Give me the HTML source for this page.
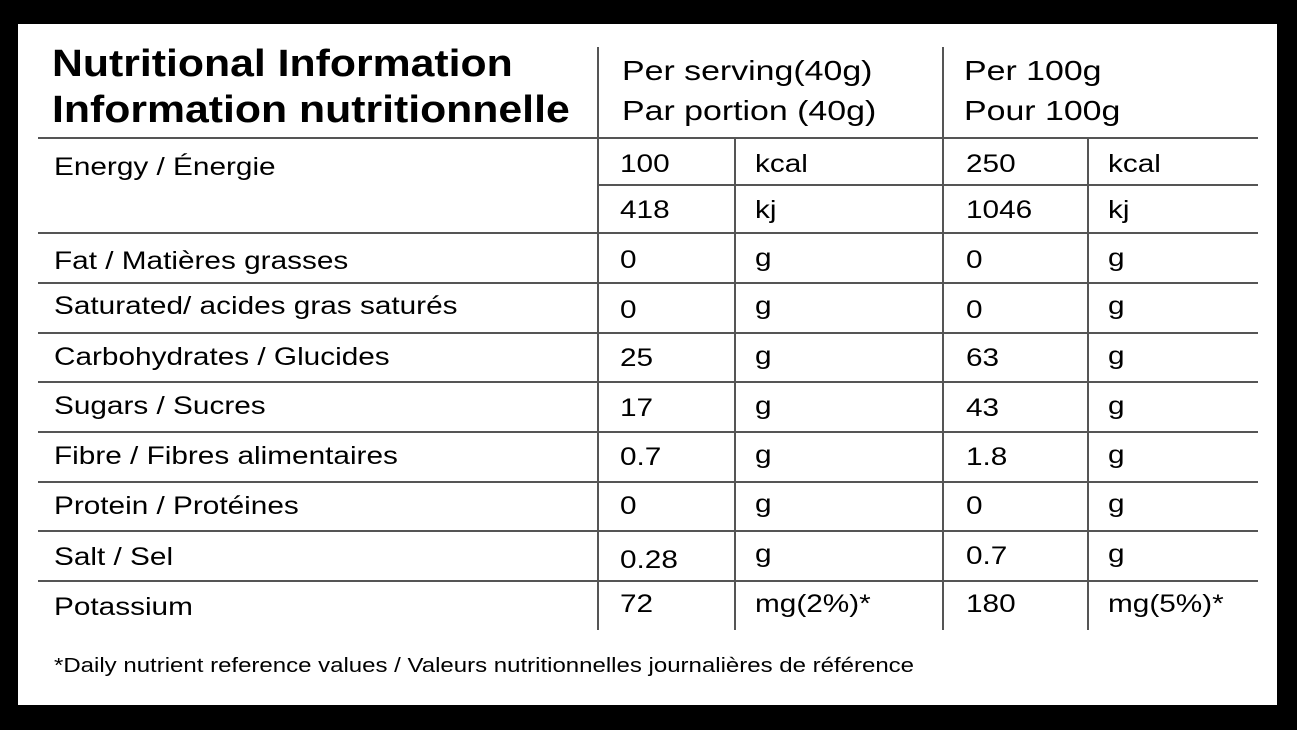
<!DOCTYPE html>
<html><head><style>
body{margin:0;width:1297px;height:730px;background:#000;position:relative;overflow:hidden;font-family:"Liberation Sans",Arial,sans-serif;color:#000}
#w{position:absolute;left:18px;top:24px;width:1259px;height:681px;background:#fff}
.h{position:absolute;height:2px;background:#555}
.v{position:absolute;width:2px;background:#555}
.t{position:absolute;font-size:25px;line-height:1;white-space:nowrap;transform:scaleX(1.19);transform-origin:0 0}
.b{position:absolute;font-size:38px;font-weight:bold;line-height:1;white-space:nowrap;transform:scaleX(1.125);transform-origin:0 0}
.p{position:absolute;font-size:28px;line-height:1;white-space:nowrap;transform:scaleX(1.21);transform-origin:0 0}
.f{position:absolute;font-size:20px;line-height:1;white-space:nowrap;transform:scaleX(1.2);transform-origin:0 0}
</style></head><body>
<div id="w"></div>
<div class="b" style="left:52px;top:45px">Nutritional Information</div>
<div class="b" style="left:52px;top:91px">Information nutritionnelle</div>
<div class="p" style="left:622px;top:57px">Per serving(40g)</div>
<div class="p" style="left:622px;top:97px">Par portion (40g)</div>
<div class="p" style="left:964px;top:57px">Per 100g</div>
<div class="p" style="left:964px;top:97px">Pour 100g</div>

<div class="v" style="left:597px;top:47px;height:583px"></div>
<div class="v" style="left:942px;top:47px;height:583px"></div>
<div class="v" style="left:734px;top:138px;height:492px"></div>
<div class="v" style="left:1087px;top:138px;height:492px"></div>

<div class="h" style="left:38px;width:1220px;top:137px"></div>
<div class="h" style="left:598px;width:660px;top:184px"></div>
<div class="h" style="left:38px;width:1220px;top:232px"></div>
<div class="h" style="left:38px;width:1220px;top:282px"></div>
<div class="h" style="left:38px;width:1220px;top:332px"></div>
<div class="h" style="left:38px;width:1220px;top:381px"></div>
<div class="h" style="left:38px;width:1220px;top:431px"></div>
<div class="h" style="left:38px;width:1220px;top:481px"></div>
<div class="h" style="left:38px;width:1220px;top:530px"></div>
<div class="h" style="left:38px;width:1220px;top:580px"></div>

<div class="t" style="left:54px;top:155px">Energy / Énergie</div>
<div class="t" style="left:620px;top:152px">100</div><div class="t" style="left:755px;top:152px">kcal</div>
<div class="t" style="left:966px;top:152px">250</div><div class="t" style="left:1108px;top:152px">kcal</div>
<div class="t" style="left:620px;top:198px">418</div><div class="t" style="left:755px;top:198px">kj</div>
<div class="t" style="left:966px;top:198px">1046</div><div class="t" style="left:1108px;top:198px">kj</div>

<div class="t" style="left:54px;top:249px">Fat / Matières grasses</div>
<div class="t" style="left:620px;top:248px">0</div><div class="t" style="left:755px;top:246px">g</div>
<div class="t" style="left:966px;top:248px">0</div><div class="t" style="left:1108px;top:246px">g</div>

<div class="t" style="left:54px;top:294px">Saturated/ acides gras saturés</div>
<div class="t" style="left:620px;top:298px">0</div><div class="t" style="left:755px;top:294px">g</div>
<div class="t" style="left:966px;top:298px">0</div><div class="t" style="left:1108px;top:294px">g</div>

<div class="t" style="left:54px;top:345px">Carbohydrates / Glucides</div>
<div class="t" style="left:620px;top:346px">25</div><div class="t" style="left:755px;top:344px">g</div>
<div class="t" style="left:966px;top:346px">63</div><div class="t" style="left:1108px;top:344px">g</div>

<div class="t" style="left:54px;top:394px">Sugars / Sucres</div>
<div class="t" style="left:620px;top:396px">17</div><div class="t" style="left:755px;top:394px">g</div>
<div class="t" style="left:966px;top:396px">43</div><div class="t" style="left:1108px;top:394px">g</div>

<div class="t" style="left:54px;top:444px">Fibre / Fibres alimentaires</div>
<div class="t" style="left:620px;top:445px">0.7</div><div class="t" style="left:755px;top:443px">g</div>
<div class="t" style="left:966px;top:445px">1.8</div><div class="t" style="left:1108px;top:443px">g</div>

<div class="t" style="left:54px;top:494px">Protein / Protéines</div>
<div class="t" style="left:620px;top:494px">0</div><div class="t" style="left:755px;top:492px">g</div>
<div class="t" style="left:966px;top:494px">0</div><div class="t" style="left:1108px;top:492px">g</div>

<div class="t" style="left:54px;top:545px">Salt / Sel</div>
<div class="t" style="left:620px;top:548px">0.28</div><div class="t" style="left:755px;top:542px">g</div>
<div class="t" style="left:966px;top:544px">0.7</div><div class="t" style="left:1108px;top:542px">g</div>

<div class="t" style="left:54px;top:595px">Potassium</div>
<div class="t" style="left:620px;top:592px">72</div><div class="t" style="left:755px;top:592px">mg(2%)*</div>
<div class="t" style="left:966px;top:592px">180</div><div class="t" style="left:1108px;top:592px">mg(5%)*</div>

<div class="f" style="left:54px;top:656px">*Daily nutrient reference values / Valeurs nutritionnelles journalières de référence</div>
</body></html>
